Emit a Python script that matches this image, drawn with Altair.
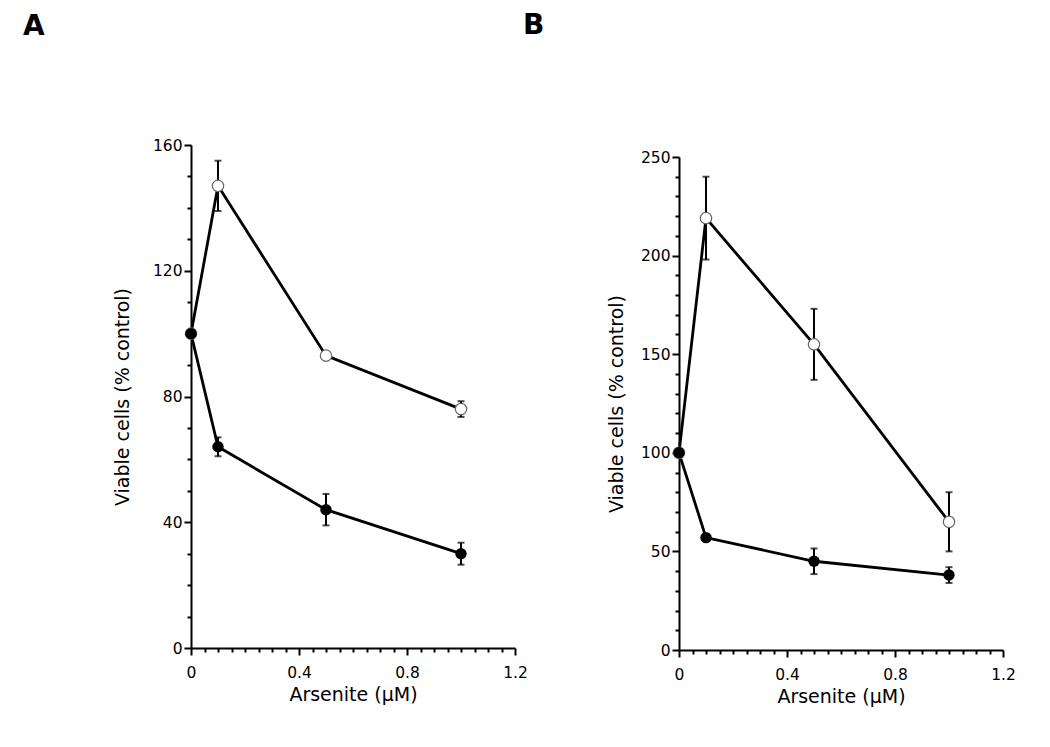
import altair as alt
import pandas as pd

dose = [0, 0.1, 0.5, 1.0]

a_open = [100, 147, 93, 76]
a_open_err = [0, 8, 1, 2.5]
a_filled = [100, 64, 44, 30]
a_filled_err = [0, 3, 5, 3.5]

b_open = [100, 219, 155, 65]
b_open_err = [0, 21, 18, 15]
b_filled = [100, 57, 45, 38]
b_filled_err = [0, 0, 6.5, 4]

x_ticks = [0, 0.05, 0.1, 0.15, 0.2, 0.25, 0.3, 0.35, 0.4, 0.45, 0.5, 0.55, 0.6,
           0.65, 0.7, 0.75, 0.8, 0.85, 0.9, 0.95, 1.0, 1.05, 1.1, 1.15, 1.2]
a_y_ticks = list(range(0, 161, 10))
b_y_ticks = list(range(0, 251, 10))

FONT = "DejaVu Sans"


def make_df(open_v, open_e, fill_v, fill_e):
    rows = []
    for d, v, e in zip(dose, open_v, open_e):
        rows.append({"dose": d, "value": v, "lo": v - e, "hi": v + e, "err": e, "series": "open"})
    for d, v, e in zip(dose, fill_v, fill_e):
        rows.append({"dose": d, "value": v, "lo": v - e, "hi": v + e, "err": e, "series": "filled"})
    return pd.DataFrame(rows)


def major_test(step):
    return f"abs(datum.value/{step} - round(datum.value/{step})) < 0.001"


def panel(letter, df, ymax, ystep, yticks, height, yrange, dx, toff, ytpad):
    xaxis = alt.Axis(
        values=x_ticks, format="~g", title="Arsenite (\u03bcM)",
        labelExpr=f"{major_test(0.4)} ? datum.label : ''",
        tickSize={"condition": {"test": major_test(0.4), "value": 7}, "value": 4},
        labelPadding=10, titlePadding=5, labelFlush=False,
    )
    yaxis = alt.Axis(
        values=yticks, format="d", title="Viable cells (% control)",
        labelExpr=f"{major_test(ystep)} ? datum.label : ''",
        tickSize={"condition": {"test": major_test(ystep), "value": 7}, "value": 4},
        labelPadding=2, titlePadding=ytpad, labelFlush=False,
    )
    xs = alt.Scale(domain=[0, 1.2], nice=False, zero=False)
    ys = alt.Scale(domain=[0, ymax], nice=False, range=yrange)
    X = alt.X("dose:Q", scale=xs, axis=xaxis)
    base = alt.Chart(df)
    line = base.mark_line(color="black", strokeWidth=2.8).encode(
        x=X, y=alt.Y("value:Q", scale=ys, axis=yaxis), detail="series:N")
    errdf = base.transform_filter("datum.err > 0")
    rule = errdf.mark_rule(color="black", strokeWidth=2).encode(
        x=X, y=alt.Y("lo:Q", scale=ys, axis=yaxis), y2="hi:Q")
    cap_lo = errdf.mark_tick(color="black", orient="horizontal", size=7, thickness=2).encode(
        x=X, y=alt.Y("lo:Q", scale=ys, axis=yaxis))
    cap_hi = errdf.mark_tick(color="black", orient="horizontal", size=7, thickness=2).encode(
        x=X, y=alt.Y("hi:Q", scale=ys, axis=yaxis))
    pts_open = base.transform_filter("datum.series == 'open'").mark_point(
        shape="circle", fill="white", stroke="#666666", strokeWidth=1.2, size=130, opacity=1, filled=False
    ).encode(x=X, y=alt.Y("value:Q", scale=ys, axis=yaxis))
    pts_fill = base.transform_filter("datum.series == 'filled'").mark_circle(
        color="black", size=130, opacity=1
    ).encode(x=X, y=alt.Y("value:Q", scale=ys, axis=yaxis))
    return alt.layer(line, rule, cap_lo, cap_hi, pts_open, pts_fill).properties(
        width=324, height=height,
        title=alt.TitleParams(letter, anchor="start", fontSize=28, fontWeight="bold",
                              font=FONT, offset=toff, dx=dx, frame="group"),
    )


pa = panel("A", make_df(a_open, a_open_err, a_filled, a_filled_err), 160, 40, a_y_ticks,
           503, [503, 0], -168, 97, 20)
pb = panel("B", make_df(b_open, b_open_err, b_filled, b_filled_err), 250, 50, b_y_ticks,
           505, [505, 12], -156, 105, 14)

chart = alt.hconcat(pa, pb, spacing=164, bounds="flush").configure_view(stroke=None).configure_axis(
    grid=False, domainColor="black", domainWidth=2, tickColor="black", tickWidth=2,
    labelFont=FONT, titleFont=FONT, labelFontSize=15.5, titleFontSize=19,
    titleFontWeight="normal", labelColor="black", titleColor="black",
).properties(padding={"left": 15, "top": 4, "right": 5, "bottom": 5})

chart.save("out.html", embed_options={"renderer": "svg", "actions": False})
